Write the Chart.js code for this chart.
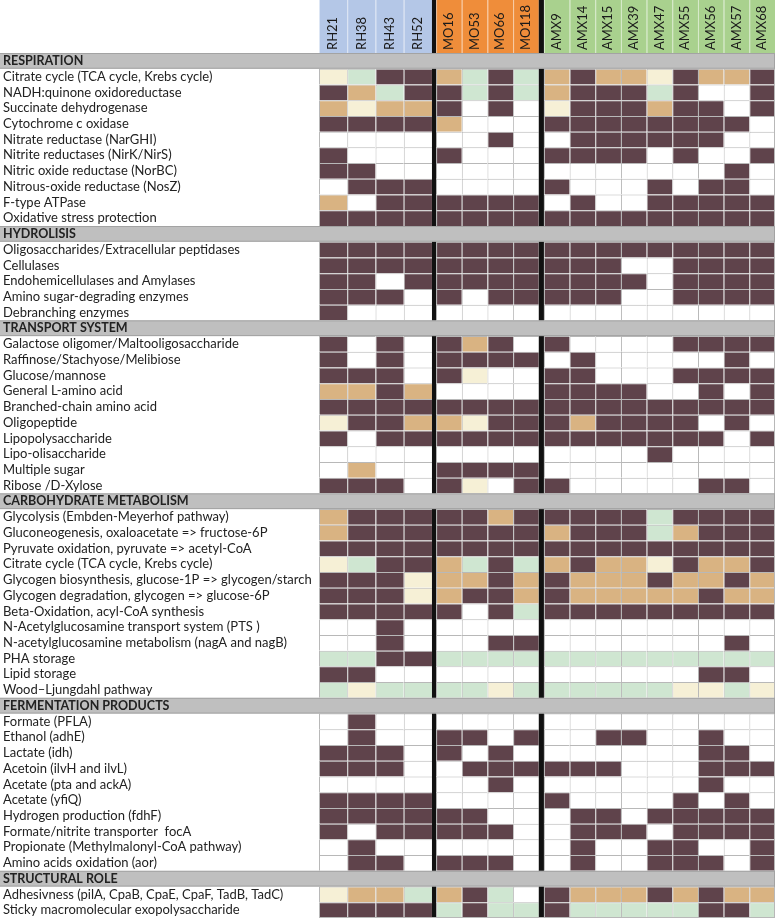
<!DOCTYPE html>
<html>
<head>
<meta charset="utf-8">
<script src="https://cdn.jsdelivr.net/npm/chart.js@4"></script>
<style>
  html, body { margin: 0; padding: 0; background: #fff; }
  #wrap { width: 777px; height: 920px; position: relative; }
</style>
</head>
<body>
<div id="wrap"><canvas id="heat"></canvas></div>
<script>
// 0 = absent (white), 1 = present (dark), 2 = tan, 3 = light green, 4 = cream
const samples = ["RH21", "RH38", "RH43", "RH52", "MO16", "MO53", "MO66", "MO118",
  "AMX9", "AMX14", "AMX15", "AMX39", "AMX47", "AMX55", "AMX56", "AMX57", "AMX68"];
const sampleGroups = ["RH", "RH", "RH", "RH", "MO", "MO", "MO", "MO",
  "AMX", "AMX", "AMX", "AMX", "AMX", "AMX", "AMX", "AMX", "AMX"];

const sections = ["RESPIRATION", "HYDROLISIS", "TRANSPORT SYSTEM",
  "CARBOHYDRATE METABOLISM", "FERMENTATION PRODUCTS", "STRUCTURAL ROLE"];

const respirationLabels = [
  "Citrate cycle (TCA cycle, Krebs cycle)",
  "NADH:quinone oxidoreductase",
  "Succinate dehydrogenase",
  "Cytochrome c oxidase",
  "Nitrate reductase (NarGHI)",
  "Nitrite reductases (NirK/NirS)",
  "Nitric oxide reductase (NorBC)",
  "Nitrous-oxide reductase (NosZ)",
  "F-type ATPase",
  "Oxidative stress protection"
];
const respirationValues = [
  [4, 3, 1, 1, 2, 3, 1, 3, 2, 1, 2, 2, 4, 1, 2, 2, 1],
  [1, 2, 3, 1, 1, 3, 1, 3, 2, 1, 1, 1, 3, 1, 0, 0, 1],
  [2, 4, 2, 2, 1, 0, 1, 0, 4, 1, 1, 1, 2, 1, 1, 0, 1],
  [1, 1, 1, 1, 2, 0, 0, 0, 1, 1, 1, 1, 1, 1, 1, 1, 0],
  [0, 0, 0, 0, 0, 0, 1, 0, 0, 1, 1, 1, 1, 1, 1, 0, 0],
  [1, 0, 0, 0, 1, 0, 0, 0, 1, 1, 1, 1, 0, 1, 0, 0, 1],
  [1, 1, 0, 0, 0, 0, 0, 0, 0, 0, 0, 0, 0, 0, 0, 1, 0],
  [0, 1, 1, 1, 0, 0, 0, 0, 1, 0, 0, 0, 1, 0, 1, 1, 0],
  [2, 0, 1, 1, 1, 1, 1, 1, 0, 1, 0, 0, 1, 1, 1, 1, 1],
  [1, 1, 1, 1, 1, 1, 1, 1, 1, 1, 1, 1, 1, 1, 1, 1, 1]
];

const hydrolysisLabels = [
  "Oligosaccharides/Extracellular peptidases",
  "Cellulases",
  "Endohemicellulases and Amylases",
  "Amino sugar-degrading enzymes",
  "Debranching enzymes"
];
const hydrolysisValues = [
  [1, 1, 1, 1, 1, 1, 1, 1, 1, 1, 1, 1, 1, 1, 1, 1, 1],
  [1, 1, 1, 1, 1, 1, 1, 1, 1, 1, 1, 0, 0, 1, 1, 1, 1],
  [1, 1, 0, 1, 1, 1, 1, 1, 1, 1, 1, 1, 0, 1, 1, 1, 1],
  [1, 1, 1, 0, 1, 0, 1, 1, 1, 1, 1, 0, 0, 1, 1, 1, 1],
  [1, 0, 0, 0, 0, 0, 0, 0, 0, 0, 0, 0, 0, 0, 0, 0, 0]
];

const transportLabels = [
  "Galactose oligomer/Maltooligosaccharide",
  "Raffinose/Stachyose/Melibiose",
  "Glucose/mannose",
  "General L-amino acid",
  "Branched-chain amino acid",
  "Oligopeptide",
  "Lipopolysaccharide",
  "Lipo-olisaccharide",
  "Multiple sugar",
  "Ribose /D-Xylose"
];
const transportValues = [
  [1, 0, 1, 0, 1, 2, 1, 0, 1, 0, 0, 0, 0, 1, 1, 1, 1],
  [1, 0, 1, 0, 1, 1, 1, 1, 0, 1, 0, 0, 0, 0, 0, 1, 0],
  [1, 1, 1, 0, 1, 4, 0, 0, 1, 1, 0, 0, 0, 1, 1, 1, 1],
  [2, 2, 1, 2, 0, 0, 0, 0, 1, 1, 1, 1, 0, 0, 1, 0, 1],
  [1, 1, 1, 1, 1, 1, 1, 1, 1, 1, 1, 1, 1, 1, 1, 1, 1],
  [4, 1, 1, 2, 2, 4, 1, 1, 1, 2, 1, 1, 1, 1, 0, 1, 0],
  [1, 0, 1, 1, 1, 1, 1, 1, 1, 1, 1, 1, 1, 1, 1, 0, 1],
  [0, 0, 0, 0, 0, 0, 0, 0, 0, 0, 0, 0, 1, 0, 0, 0, 0],
  [0, 2, 0, 0, 1, 1, 1, 1, 0, 0, 0, 0, 0, 0, 0, 0, 0],
  [1, 1, 1, 0, 1, 4, 0, 1, 1, 0, 0, 0, 0, 0, 1, 1, 0]
];

const carbohydrateLabels = [
  "Glycolysis (Embden-Meyerhof pathway)",
  "Gluconeogenesis, oxaloacetate => fructose-6P",
  "Pyruvate oxidation, pyruvate => acetyl-CoA",
  "Citrate cycle (TCA cycle, Krebs cycle)",
  "Glycogen biosynthesis, glucose-1P => glycogen/starch",
  "Glycogen degradation, glycogen => glucose-6P",
  "Beta-Oxidation, acyl-CoA synthesis",
  "N-Acetylglucosamine transport system (PTS )",
  "N-acetylglucosamine metabolism (nagA and nagB)",
  "PHA storage",
  "Lipid storage",
  "Wood\u2013Ljungdahl pathway"
];
const carbohydrateValues = [
  [2, 1, 1, 1, 1, 1, 2, 1, 1, 1, 1, 1, 3, 1, 1, 1, 1],
  [2, 1, 1, 1, 1, 1, 1, 1, 2, 1, 1, 1, 3, 2, 1, 1, 1],
  [1, 1, 1, 1, 1, 1, 1, 1, 1, 1, 1, 1, 1, 1, 1, 1, 1],
  [4, 3, 1, 1, 2, 3, 1, 3, 2, 1, 2, 2, 4, 1, 2, 2, 1],
  [1, 1, 1, 4, 2, 2, 1, 2, 1, 2, 2, 2, 1, 2, 2, 1, 2],
  [1, 1, 1, 4, 2, 1, 1, 2, 1, 2, 2, 2, 2, 2, 1, 2, 2],
  [1, 1, 1, 1, 1, 0, 1, 3, 1, 1, 1, 1, 1, 1, 1, 1, 1],
  [0, 0, 1, 0, 0, 0, 0, 0, 0, 0, 0, 0, 0, 0, 0, 0, 0],
  [0, 0, 1, 0, 0, 0, 1, 1, 0, 0, 0, 0, 0, 0, 0, 1, 0],
  [3, 3, 1, 1, 3, 3, 3, 3, 3, 3, 3, 3, 3, 3, 3, 3, 3],
  [1, 1, 0, 0, 0, 0, 0, 0, 0, 0, 0, 0, 0, 0, 1, 1, 0],
  [3, 4, 3, 3, 3, 3, 4, 3, 3, 3, 3, 3, 3, 4, 4, 3, 4]
];

const fermentationLabels = [
  "Formate (PFLA)",
  "Ethanol (adhE)",
  "Lactate (idh)",
  "Acetoin (ilvH and ilvL)",
  "Acetate (pta and ackA)",
  "Acetate (yfiQ)",
  "Hydrogen production (fdhF)",
  "Formate/nitrite transporter  focA",
  "Propionate (Methylmalonyl-CoA pathway)",
  "Amino acids oxidation (aor)"
];
const fermentationValues = [
  [0, 1, 0, 0, 0, 0, 0, 0, 0, 0, 0, 0, 0, 0, 0, 0, 0],
  [0, 1, 0, 0, 1, 1, 0, 1, 0, 0, 1, 1, 0, 0, 1, 0, 0],
  [1, 1, 1, 0, 1, 0, 1, 0, 0, 0, 0, 0, 0, 0, 1, 1, 0],
  [1, 1, 1, 0, 0, 1, 1, 1, 1, 1, 1, 0, 0, 0, 1, 1, 1],
  [0, 0, 0, 0, 0, 0, 1, 0, 0, 0, 0, 0, 0, 0, 1, 0, 0],
  [1, 1, 1, 1, 0, 0, 0, 0, 1, 0, 0, 0, 0, 1, 0, 1, 0],
  [1, 1, 1, 1, 1, 1, 0, 0, 0, 1, 1, 0, 1, 1, 1, 1, 1],
  [1, 0, 1, 1, 1, 1, 1, 0, 0, 1, 1, 1, 0, 1, 1, 1, 1],
  [0, 1, 0, 0, 0, 0, 0, 0, 0, 1, 0, 0, 1, 1, 0, 0, 1],
  [0, 1, 1, 0, 1, 1, 1, 0, 0, 1, 0, 0, 1, 1, 1, 0, 1]
];

const structuralLabels = [
  "Adhesivness (pilA, CpaB, CpaE, CpaF, TadB, TadC)",
  "Sticky macromolecular exopolysaccharide"
];
const structuralValues = [
  [4, 2, 2, 3, 2, 1, 3, 0, 1, 2, 2, 2, 1, 2, 1, 2, 2],
  [1, 1, 1, 1, 3, 1, 3, 3, 1, 3, 3, 3, 3, 3, 1, 1, 3]
];

// colours
const cellColors = ["#ffffff", "#5f434b", "#d9b382", "#cfe6d1", "#f6f0d6"];
const groupColors = { RH: "#b4c7e7", MO: "#ef8d3a", AMX: "#a9d18e" };
const headerGrey = "#bfbfbf";
const lineGrey = "#b8b8b8";
const FONT = "Lato, 'Open Sans', sans-serif";

// flatten sections into rows
const sectionData = [
  [respirationLabels, respirationValues],
  [hydrolysisLabels, hydrolysisValues],
  [transportLabels, transportValues],
  [carbohydrateLabels, carbohydrateValues],
  [fermentationLabels, fermentationValues],
  [structuralLabels, structuralValues]
];
const rowLabels = [];
const rowValues = [];
const isHeader = [];
sections.forEach((name, i) => {
  rowLabels.push(name);
  rowValues.push(null);
  isHeader.push(true);
  sectionData[i][0].forEach((label, j) => {
    rowLabels.push(label);
    rowValues.push(sectionData[i][1][j]);
    isHeader.push(false);
  });
});

// column spans on the x scale (RH columns a bit wider, black gaps between groups)
const colStart = [];
const colEnd = [];
const gaps = [];
let pos = 0;
samples.forEach((s, i) => {
  colStart.push(pos);
  pos += sampleGroups[i] === "RH" ? 1.1 : 1;
  colEnd.push(pos);
  if (sampleGroups[i + 1] && sampleGroups[i + 1] !== sampleGroups[i]) {
    const g = sampleGroups[i] === "RH" ? 0.16 : 0.2;
    gaps.push([pos, pos + g]);
    pos += g;
  }
});
const xMax = pos;

const datasets = samples.map((s, c) => ({
  label: s,
  data: rowValues.map((v) => (v ? [colStart[c], colEnd[c]] : null)),
  backgroundColor: rowValues.map((v) => (v ? cellColors[v[c]] : "transparent")),
  borderColor: lineGrey,
  borderWidth: { top: 1, left: 1, right: 0, bottom: 0 },
  borderSkipped: false,
  grouped: false,
  barPercentage: 1,
  categoryPercentage: 1,
  inflateAmount: 0,
}));

// Paint column header colours, section bars and group separators
const backdrop = {
  id: "backdrop",
  beforeDraw(chart) {
    const { ctx, chartArea: a, scales: { x, y } } = chart;
    ctx.save();
    ctx.fillStyle = "#fff";
    ctx.fillRect(0, 0, chart.width, chart.height);
    samples.forEach((s, i) => {
      const x0 = x.getPixelForValue(colStart[i]);
      const x1 = x.getPixelForValue(colEnd[i]);
      ctx.fillStyle = groupColors[sampleGroups[i]];
      ctx.fillRect(x0, 0, x1 - x0, a.top);
      ctx.fillStyle = "rgba(255,255,255,0.55)";
      ctx.fillRect(x0, 0, 1, a.top);
    });
    const h = y.getPixelForValue(1) - y.getPixelForValue(0);
    isHeader.forEach((hd, i) => {
      if (!hd) return;
      const yc = y.getPixelForValue(i);
      ctx.fillStyle = headerGrey;
      ctx.fillRect(0, yc - h / 2, a.left, h);
    });
    ctx.restore();
  },
  afterDatasetsDraw(chart) {
    const { ctx, chartArea: a, scales: { x, y } } = chart;
    ctx.save();
    // black separators between sample groups
    ctx.fillStyle = "#111";
    gaps.forEach(([g0, g1]) => {
      const x0 = x.getPixelForValue(g0);
      const x1 = x.getPixelForValue(g1);
      ctx.fillRect(x0, 0, x1 - x0, a.bottom);
    });
    // outer right / bottom lines
    ctx.fillStyle = lineGrey;
    ctx.fillRect(a.right - 1, a.top, 1, a.bottom - a.top);
    ctx.fillRect(a.left, a.bottom - 1, a.right - a.left, 1);
    // section bars across the grid
    const h = y.getPixelForValue(1) - y.getPixelForValue(0);
    isHeader.forEach((hd, i) => {
      if (!hd) return;
      const y0 = y.getPixelForValue(i) - h / 2;
      ctx.fillStyle = headerGrey;
      ctx.fillRect(a.left, y0, a.right - a.left, h);
      ctx.fillStyle = "#a3a3a3";
      ctx.fillRect(0, y0, a.right, 1);
      ctx.fillRect(0, y0 + h - 1, a.right, 1);
      ctx.fillRect(a.right - 1, y0, 1, h);
    });
    ctx.restore();
  },
};

new Chart(document.getElementById("heat").getContext("2d"), {
  type: "bar",
  data: { labels: rowLabels, datasets: datasets },
  plugins: [backdrop],
  options: {
    indexAxis: "y",
    responsive: true,
    maintainAspectRatio: false,
    animation: false,
    layout: { padding: { left: 3, right: 2, top: 0, bottom: 2 } },
    plugins: {
      legend: { display: false },
      tooltip: { enabled: false },
    },
    scales: {
      x: {
        type: "linear",
        position: "top",
        min: 0,
        max: xMax,
        grid: { display: false, drawTicks: false },
        border: { display: false },
        afterBuildTicks: (scale) => {
          scale.ticks = samples.map((s, i) => ({ value: (colStart[i] + colEnd[i]) / 2 }));
        },
        afterFit: (scale) => {
          scale.height = 53;
          scale.paddingLeft = 0;
          scale.paddingRight = 0;
        },
        ticks: {
          autoSkip: false,
          minRotation: 90,
          maxRotation: 90,
          padding: 3,
          labelOffset: 15.6,
          color: "#1a1a1a",
          font: { family: FONT, size: 13 },
          callback: (value, index) => samples[index],
        },
      },
      y: {
        type: "category",
        position: "left",
        grid: { display: false, drawTicks: false },
        border: { display: false },
        afterFit: (scale) => {
          scale.width = 316;
          scale.paddingTop = 0;
          scale.paddingBottom = 0;
        },
        ticks: {
          autoSkip: false,
          crossAlign: "far",
          padding: 0,
          color: "#222",
          font: (ctx) => ({
            family: FONT,
            size: isHeader[ctx.index] ? 12.5 : 13,
            weight: isHeader[ctx.index] ? "bold" : "normal",
          }),
        },
      },
    },
  },
});
</script>
</body>
</html>
